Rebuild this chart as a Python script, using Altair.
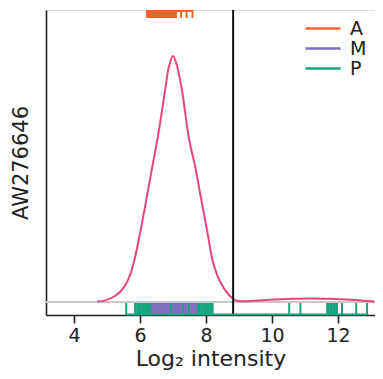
import altair as alt
import pandas as pd

# Density curve
dens_x = [4.70, 4.95, 5.24, 5.45, 5.64, 5.79, 6.00, 6.21, 6.36, 6.55, 6.76, 6.88, 7.00,
          7.12, 7.27, 7.48, 7.68, 7.82, 8.03, 8.21, 8.42, 8.67, 8.90, 9.20, 9.60, 10.1,
          10.6, 11.2, 11.7, 12.3, 12.8, 13.1]
dens_y = [0.001, 0.004, 0.015, 0.030, 0.056, 0.092, 0.172, 0.265, 0.333, 0.418, 0.530, 0.590, 0.615,
          0.590, 0.530, 0.410, 0.335, 0.272, 0.180, 0.100, 0.052, 0.020, 0.004, 0.002, 0.004, 0.006,
          0.008, 0.009, 0.008, 0.006, 0.003, 0.001]

# Rug values per group
A_vals = [6.21, 6.25, 6.30, 6.34, 6.39, 6.43, 6.48, 6.52, 6.57, 6.61, 6.66, 6.70, 6.75, 6.79,
          6.84, 6.88, 6.93, 6.97, 7.02, 7.06, 7.09, 7.24, 7.41, 7.59]
M_vals = [6.30, 6.34, 6.39, 6.43, 6.48, 6.52, 6.57, 6.61, 6.66, 6.70, 6.75, 6.79, 6.84, 6.88,
          6.93, 6.97, 7.02, 7.06, 7.11, 7.15, 7.20, 7.24, 7.29, 7.33, 7.38, 7.42, 7.47, 7.51,
          7.56, 7.60, 7.65, 7.69, 7.73]
P_vals = [5.58, 5.85, 5.91, 5.95, 6.00, 6.04, 6.09, 6.13, 6.18, 6.22, 6.27, 6.31,
          6.94, 7.30, 7.48,
          7.76, 7.80, 7.85, 7.89, 7.94, 7.98, 8.03, 8.07, 8.12, 8.16, 8.20,
          10.52, 10.86, 11.67, 11.71, 11.76, 11.80, 11.85, 11.89, 11.94, 11.97,
          12.12, 12.55, 12.88]
groups = ["A", "M", "P"]
colors = ["#F0642C", "#7D6FC2", "#17A67E"]
cutoff = [8.82]
tick_vals = [4, 6, 8, 10, 12]

dens = pd.DataFrame({"x": dens_x, "d": dens_y})
rug = pd.DataFrame({
    "x": A_vals + M_vals + P_vals,
    "g": ["A"] * len(A_vals) + ["M"] * len(M_vals) + ["P"] * len(P_vals),
})
cut = pd.DataFrame({"x": cutoff})

xs = alt.Scale(domain=[3.15, 13.12], nice=False, zero=False)
ys = alt.Scale(domain=[-0.0325, 0.73], nice=False, zero=False)
cs = alt.Scale(domain=groups, range=colors)

FONT = "DejaVu Sans"

xax = alt.Axis(values=tick_vals, grid=False, domainColor="#222", domainWidth=1.6,
               tickColor="#222", tickWidth=1.6, tickSize=8, labelFontSize=19,
               labelColor="#222", labelFont=FONT, labelPadding=3,
               title="Log₂ intensity", titleFontSize=22, titleFont=FONT,
               titleFontWeight="normal", titleColor="#222", titlePadding=3)
yax = alt.Axis(labels=False, ticks=False, grid=False, domainColor="#222", domainWidth=1.6,
               title="AW276646", titleFontSize=21, titleFont=FONT,
               titleFontWeight="normal", titleColor="#222", titlePadding=15)

base_line = alt.Chart(dens).mark_rule(color="#c8c8c8", strokeWidth=2).encode(
    y=alt.Y("datum_y:Q", scale=ys, axis=yax)
).transform_calculate(datum_y="0").transform_aggregate(datum_y="min(datum_y)")

curve = alt.Chart(dens).mark_line(color="#E8457F", strokeWidth=2, interpolate="catmull-rom").encode(
    x=alt.X("x:Q", scale=xs, axis=xax),
    y=alt.Y("d:Q", scale=ys),
)

vline = alt.Chart(cut).mark_rule(color="#111", strokeWidth=2).encode(
    x=alt.X("x:Q", scale=xs)
)

legend = alt.Legend(title=None, orient="none", legendX=258, legendY=9, padding=0,
                    symbolType="stroke", symbolSize=1225, symbolStrokeWidth=2.5,
                    clipHeight=19, rowPadding=0, labelOffset=8, labelFontSize=19,
                    labelFont=FONT, labelColor="#222")

top_rug = alt.Chart(rug).transform_filter(alt.datum.g == "A").mark_rule(strokeWidth=2).encode(
    x=alt.X("x:Q", scale=xs),
    y=alt.value(0), y2=alt.value(8),
    color=alt.Color("g:N", scale=cs, legend=legend),
)
top_base = alt.Chart(rug).transform_filter(alt.datum.g == "A").mark_rule(strokeWidth=2).encode(
    x=alt.X("min(x):Q", scale=xs), x2="max(x):Q",
    y=alt.value(1),
    color=alt.Color("g:N", scale=cs, legend=legend),
)
bot_rug = alt.Chart(rug).transform_filter(alt.datum.g != "A").mark_rule(strokeWidth=2).encode(
    x=alt.X("x:Q", scale=xs),
    y=alt.value(293), y2=alt.value(305),
    color=alt.Color("g:N", scale=cs, legend=legend),
)
bot_base = alt.Chart(rug).transform_filter(alt.datum.g == "P").mark_rule(strokeWidth=2).encode(
    x=alt.X("min(x):Q", scale=xs), x2="max(x):Q",
    y=alt.value(304.5),
    color=alt.Color("g:N", scale=cs, legend=legend),
)

chart = alt.layer(base_line, curve, vline, top_base, top_rug, bot_rug, bot_base).properties(
    width=329, height=305,
    autosize=alt.AutoSizeParams(type="none"),
    padding={"left": 38, "top": 2, "right": 0, "bottom": 56},
).configure_view(stroke=None).configure(background="white")

chart.save("out.html", embed_options={"renderer": "svg", "actions": False})
